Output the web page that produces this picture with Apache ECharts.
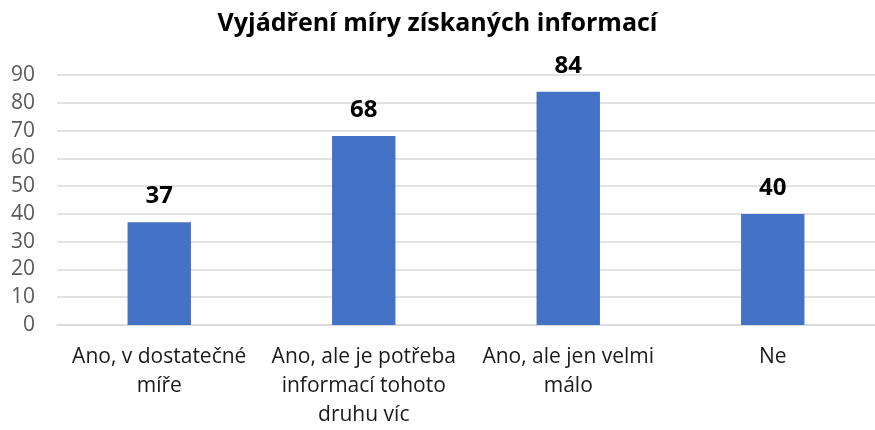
<!DOCTYPE html>
<html><head><meta charset="utf-8">
<script src="https://cdn.jsdelivr.net/npm/echarts@6/dist/echarts.min.js"></script>
<style>html,body{margin:0;padding:0;background:#fff}#c{width:875px;height:430px}</style>
</head><body><div id="c"></div>
<script>
const titleText = 'Vyjádření míry získaných informací';
const categories = ['Ano, v dostatečné\nmíře', 'Ano, ale je potřeba\ninformací tohoto\ndruhu víc', 'Ano, ale jen velmi\nmálo', 'Ne'];
const values = [37, 68, 84, 40];
const yTicks = {min: 0, max: 90, interval: 10};
const FONT = '"Open Sans", sans-serif';
const chart = echarts.init(document.getElementById('c'));
chart.setOption({
  animation: false,
  title: {text: titleText, left: 'center', top: 6,
    textStyle: {fontFamily: FONT, fontWeight: 'bold', fontSize: 25, color: '#000'}},
  grid: {left: 57, top: 75, right: -10, bottom: 99, containLabel: false},
  xAxis: {type: 'category', data: categories,
    axisLine: {lineStyle: {color: '#d9d9d9', width: 1.5}}, axisTick: {show: false},
    axisLabel: {fontFamily: FONT, fontSize: 21, color: '#1a1a1a', lineHeight: 29, margin: 18, interval: 0}},
  yAxis: {type: 'value', min: yTicks.min, max: yTicks.max, interval: yTicks.interval,
    axisLine: {show: false}, axisTick: {show: false},
    splitLine: {lineStyle: {color: '#d9d9d9', width: 1.5}},
    axisLabel: {fontFamily: FONT, fontSize: 21, color: '#595959', margin: 22}},
  series: [{type: 'bar', data: values, barWidth: '31%',
    itemStyle: {color: '#4472c4'},
    label: {show: true, position: 'top', distance: 14,
      fontFamily: FONT, fontWeight: 'bold', fontSize: 24, color: '#000'}}]
});
</script></body></html>
